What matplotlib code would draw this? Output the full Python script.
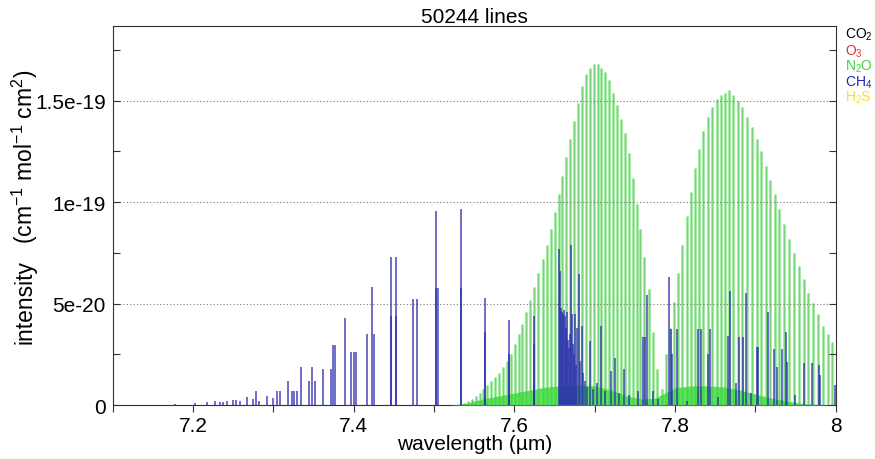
import matplotlib
matplotlib.use("Agg")
import matplotlib.pyplot as plt
from matplotlib.ticker import FixedLocator, FixedFormatter, MultipleLocator
import numpy as np

plt.rcParams['font.family'] = ['Liberation Sans', 'DejaVu Sans']
plt.rcParams['mathtext.fontset'] = 'custom'
plt.rcParams['mathtext.rm'] = 'Liberation Sans'
plt.rcParams['mathtext.it'] = 'Liberation Sans:italic'
plt.rcParams['mathtext.bf'] = 'Liberation Sans:bold'

title = "50244 lines"
molecules = ["CO$_2$", "O$_3$", "N$_2$O", "CH$_4$", "H$_2$S"]
mol_colors = ["#000000", "#e03030", "#40d040", "#2020c0", "#f0e040"]

unit = 1e-20  # intensities below are in units of 1e-20

# N2O main band lines (wavelength um, intensity)
n2o_wl = [7.532, 7.537, 7.542, 7.547, 7.552, 7.557, 7.561, 7.566, 7.571, 7.576,
          7.581, 7.586, 7.591, 7.596, 7.601, 7.606, 7.610, 7.615, 7.620, 7.625,
          7.630, 7.635, 7.640, 7.645, 7.650, 7.655, 7.659, 7.664, 7.669, 7.674,
          7.679, 7.684, 7.689, 7.694, 7.699, 7.704, 7.708, 7.713, 7.718, 7.723,
          7.728, 7.733, 7.738, 7.743, 7.748, 7.753, 7.757, 7.762, 7.767, 7.772,
          7.777,
          7.784, 7.789, 7.794, 7.799, 7.804, 7.809, 7.815, 7.820, 7.825, 7.830,
          7.835, 7.841, 7.846, 7.852, 7.857, 7.862, 7.867, 7.872, 7.878, 7.884,
          7.890, 7.896, 7.902, 7.907, 7.913, 7.918, 7.924, 7.930, 7.936, 7.942,
          7.948, 7.954, 7.960, 7.966, 7.972, 7.978, 7.984, 7.990, 7.996]
n2o_int = [0.05, 0.1, 0.2, 0.3, 0.45, 0.6, 0.8, 1.0, 1.2, 1.4,
           1.6, 1.9, 2.2, 2.5, 3.0, 3.5, 4.0, 4.6, 5.2, 5.8,
           6.5, 7.2, 7.9, 8.7, 9.5, 10.4, 11.3, 12.2, 13.1, 14.0,
           14.9, 15.7, 16.3, 16.6, 16.8, 16.8, 16.6, 16.4, 16.0, 15.4,
           14.8, 14.1, 13.4, 12.4, 11.2, 9.9, 8.7, 7.3, 5.7, 3.6,
           1.8,
           0.8, 2.5, 3.8, 5.1, 6.5, 7.9, 9.3, 10.5, 11.7, 12.6,
           13.5, 14.2, 14.7, 15.1, 15.3, 15.4, 15.5, 15.3, 15.0, 14.7,
           14.2, 13.7, 13.1, 12.5, 11.8, 11.1, 10.4, 9.65, 8.9, 8.2,
           7.5, 6.85, 6.2, 5.55, 5.05, 4.5, 3.9, 3.5, 3.1]

# N2O hot band envelope (dense weak lines)
hot_wl = [7.52, 7.54, 7.56, 7.58, 7.60, 7.62, 7.64, 7.66, 7.68, 7.70,
          7.72, 7.74, 7.76, 7.775, 7.79, 7.80, 7.82, 7.84, 7.86, 7.88,
          7.90, 7.92, 7.94, 7.96, 7.98, 8.0]
hot_int = [0.0, 0.1, 0.3, 0.45, 0.6, 0.75, 0.9, 0.95, 1.0, 0.95,
           0.75, 0.45, 0.3, 0.35, 0.65, 0.85, 0.95, 0.95, 0.9, 0.75,
           0.55, 0.35, 0.2, 0.08, 0.03, 0.0]

# CH4 lines
ch4_wl = [7.1775, 7.2025, 7.2175, 7.2275, 7.2338, 7.2375, 7.2425, 7.25, 7.2538, 7.2588,
          7.2675, 7.275, 7.2788, 7.2825, 7.2925, 7.2988, 7.3038, 7.3075, 7.3175, 7.3225,
          7.325, 7.3288, 7.3338, 7.3438, 7.3475, 7.3513, 7.3613, 7.3713, 7.3738, 7.3763,
          7.3888, 7.3963, 7.4, 7.4025, 7.4163, 7.4225, 7.425, 7.4463, 7.4463, 7.4525,
          7.4525, 7.4738, 7.4788, 7.5025, 7.5025, 7.505, 7.5338, 7.5338, 7.5638, 7.5638,
          7.5938, 7.5938, 7.625, 7.625, 7.655, 7.6563, 7.6575, 7.6588, 7.66, 7.6613,
          7.6625, 7.6638, 7.665, 7.6663, 7.6675, 7.6688, 7.67, 7.6713, 7.6725, 7.6738,
          7.675, 7.6763, 7.6775, 7.68, 7.6813, 7.6838, 7.685, 7.6875, 7.69, 7.6938,
          7.6975, 7.7025, 7.7075, 7.7125, 7.72, 7.725, 7.73, 7.7363, 7.7425, 7.7538,
          7.76, 7.7625, 7.765, 7.7725, 7.7788, 7.7925, 7.795, 7.7963, 7.8025, 7.815,
          7.8288, 7.8325, 7.8413, 7.8438, 7.8538, 7.8663, 7.8688, 7.8763, 7.88, 7.885,
          7.8888, 7.895, 7.9025, 7.9038, 7.9163, 7.9238, 7.9275, 7.9338, 7.9388, 7.94,
          7.95, 7.96, 7.97, 7.9788, 7.98, 7.9988]
ch4_int = [0.08, 0.1, 0.15, 0.2, 0.15, 0.15, 0.2, 0.25, 0.25, 0.2,
           0.4, 0.3, 0.7, 0.2, 0.45, 0.35, 0.7, 0.7, 1.2, 0.7,
           0.7, 0.7, 1.9, 1.2, 1.9, 1.2, 1.8, 1.8, 2.95, 2.95,
           4.3, 2.6, 2.6, 2.6, 3.5, 5.8, 3.5, 7.3, 4.4, 7.3,
           4.4, 5.25, 5.25, 9.55, 5.75, 5.75, 9.65, 5.75, 5.3, 3.6,
           4.2, 2.5, 4.4, 3.0, 7.7, 6.6, 4.8, 4.6, 4.5, 4.7,
           4.4, 3.8, 4.6, 3.2, 2.8, 3.5, 7.9, 4.5, 3.0, 2.5,
           4.5, 2.0, 3.8, 6.45, 2.2, 3.9, 1.6, 1.2, 0.9, 3.15,
           0.8, 1.1, 3.9, 0.7, 1.7, 2.3, 0.6, 1.8, 0.5, 0.7,
           3.35, 3.35, 5.45, 0.7, 0.3, 6.3, 3.75, 2.5, 3.75, 0.2,
           3.75, 3.75, 2.5, 3.75, 0.4, 3.4, 5.6, 1.1, 3.35, 3.35,
           5.55, 0.6, 2.85, 2.85, 4.6, 2.75, 1.9, 2.75, 3.6, 2.15,
           0.5, 2.1, 2.1, 2.0, 1.5, 1.0]

x_major = [7.2, 7.4, 7.6, 7.8, 8.0]
x_major_labels = ["7.2", "7.4", "7.6", "7.8", "8"]
y_major = [0, 5e-20, 1e-19, 1.5e-19]
y_major_labels = ["0", "5e-20", "1e-19", "1.5e-19"]
ylabel_main = "intensity"
ylabel_unit = "(cm$^{-1}$ mol$^{-1}$ cm$^{2}$)"

fig = plt.figure(figsize=(8.75, 4.6), dpi=100)
ax = fig.add_axes([0.129, 0.117, 0.826, 0.824])

n2o_int_a = np.array(n2o_int) * unit
hot_int_a = np.array(hot_int) * unit
ch4_int_a = np.array(ch4_int) * unit

ax.vlines(n2o_wl, 0, n2o_int_a, color='#a8eaa8', lw=2.2, zorder=2)
ax.vlines(n2o_wl, 0, n2o_int_a, color='#72d272', lw=0.6, zorder=2)
ax.fill_between(hot_wl, 0, hot_int_a, color='#3ad83a', alpha=0.8, lw=0, zorder=3)
ax.vlines(ch4_wl, 0, ch4_int_a, color='#2a2ab0', lw=1.2, alpha=0.8, zorder=4)

ax.set_xlim(7.1, 8.0)
ax.set_ylim(0, 1.867e-19)

ax.xaxis.set_major_locator(FixedLocator(x_major))
ax.xaxis.set_major_formatter(FixedFormatter(x_major_labels))
ax.xaxis.set_minor_locator(MultipleLocator(0.1))
ax.yaxis.set_major_locator(FixedLocator(y_major))
ax.yaxis.set_major_formatter(FixedFormatter(y_major_labels))
ax.yaxis.set_minor_locator(MultipleLocator(2.5e-20))

ax.tick_params(axis='x', which='both', direction='out', length=5, width=0.8,
               labelsize=15, pad=3, color='#333333')
ax.tick_params(axis='y', which='both', direction='in', length=5, width=0.8,
               labelsize=15, pad=5, left=True, right=True, color='#333333')
ax.yaxis.grid(True, which='major', linestyle=(0, (1, 2)), color='#777777', lw=0.8)
ax.set_axisbelow(False)
for s in ax.spines.values():
    s.set_color('#333333')
    s.set_linewidth(0.8)

ax.set_xlabel("wavelength (\u00b5m)", fontsize=15)
ax.xaxis.set_label_coords(0.5, -0.075)
ax.set_title(title, fontsize=15, pad=2)

fig.text(0.029, 0.343, ylabel_main, rotation=90, fontsize=16.5,
         ha='center', va='center')
fig.text(0.029, 0.659, ylabel_unit, rotation=90, fontsize=16.5,
         ha='center', va='center')

legend_y = [0.924, 0.887, 0.854, 0.821, 0.787]
for lab, col, yy in zip(molecules, mol_colors, legend_y):
    fig.text(0.966, yy, lab, color=col, fontsize=10, va='center', ha='left')

fig.savefig("out.png", dpi=100)
